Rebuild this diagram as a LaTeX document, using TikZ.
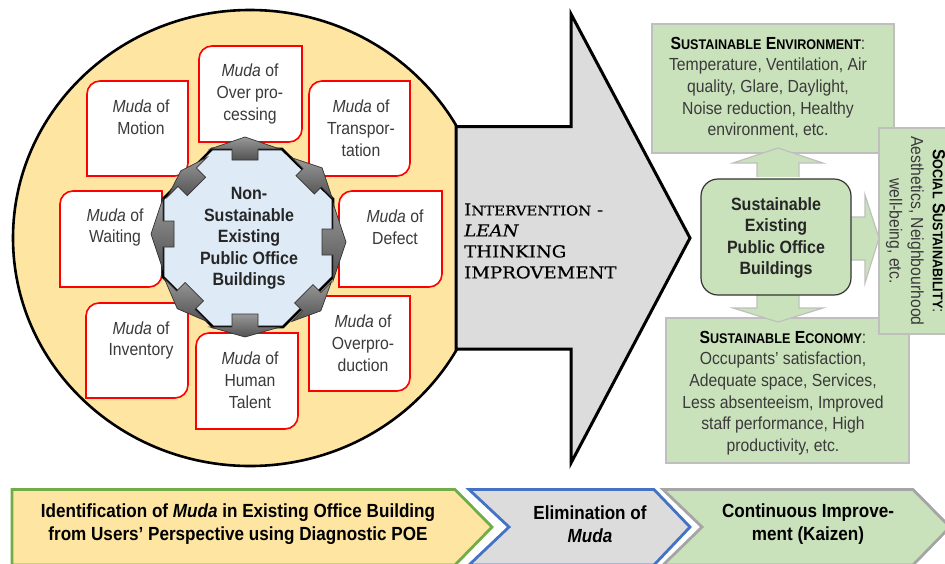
\documentclass[tikz,border=0pt]{standalone}
\usepackage{fontspec}
\setmainfont[FakeStretch=0.9]{Liberation Sans}
\newfontfamily\copperfont[FakeStretch=1.1,FakeBold=0.5]{DejaVu Serif}
\definecolor{circfill}{HTML}{FEE5A2}
\definecolor{octfill}{HTML}{DEEAF6}
\definecolor{greenfill}{HTML}{CAE2BB}
\definecolor{greyfill}{HTML}{DCDCDC}
\definecolor{softgrey}{HTML}{BFBFBF}
\definecolor{txtgrey}{HTML}{3A3A3A}
\definecolor{chevgreen}{HTML}{70AD47}
\definecolor{chevblue}{HTML}{4472C4}
\definecolor{chevgrey}{HTML}{A5A5A5}
\newcommand{\fs}[2]{\fontsize{#1}{#2}\selectfont}
\newcommand{\capshead}[2]{\textbf{#1{\fs{14}{21.7}#2}}}
\tikzset{
  x=1pt,y=-1pt,
  mudabox/.style={draw=red,line width=1.6pt,fill=white},
  mudatext/.style={align=center,inner sep=0pt,text=txtgrey,font=\fs{17.5}{21.8}},
  blockarrow/.style={draw=black!80,line width=0.7pt,top color=black!40,bottom color=black!68},
  greenbox/.style={draw=softgrey,line width=1.2pt,fill=greenfill},
  greenarrow/.style={draw=softgrey,line width=1.2pt,fill=greenfill},
  sustext/.style={align=center,inner sep=0pt,text=txtgrey,font=\fs{17.5}{21.6}},
  boldtext/.style={align=center,inner sep=0pt,text=black!85,font=\fs{17.8}{21.6}\bfseries},
  chevtext/.style={align=center,inner sep=0pt,text=black,font=\fs{19}{23}\bfseries},
}
% cx cy angle r0 r1 r2 headhalf
\newcommand{\blockarr}[7]{%
  \begin{scope}[shift={(#1,#2)},rotate=#3]
    \path[blockarrow] (#4,-13) -- (#5,-13) -- (#5,-#7) -- (#6,0) -- (#5,#7) -- (#5,13) -- (#4,13) -- cycle;
  \end{scope}}
\newcommand{\mudashape}[4]{%
  \draw[mudabox] (#1,#4) [rounded corners=13pt] -- (#1,#2) [sharp corners] -- (#3,#2) [rounded corners=13pt] -- (#3,#4) [sharp corners] -- cycle;}
\begin{document}
\begin{tikzpicture}
\useasboundingbox (0,0) rectangle (945,563);
% circle
\draw[fill=circfill,draw=black,line width=2.6pt] (250,238) ellipse [x radius=237,y radius=228];
% muda boxes
\mudashape{87}{81}{188}{176}
\mudashape{199}{46}{302}{142}
\mudashape{309}{81}{410}{176}
\mudashape{339}{191}{442}{287}
\mudashape{60}{191}{162}{287}
\mudashape{86}{303}{188}{398}
\mudashape{196}{333}{298}{429}
\mudashape{309}{296}{410}{391}
\node[mudatext] (motion) at (141,117.5) {\textit{Muda} of\\Motion};
\node[mudatext] (overproc) at (250,94) {\textit{Muda} of\\Over pro-\\cessing};
\node[mudatext] (transport) at (361,128.5) {\textit{Muda} of\\Transpor-\\tation};
\node[mudatext] (defect) at (395,227.5) {\textit{Muda} of\\Defect};
\node[mudatext] (waiting) at (115,227.5) {\textit{Muda} of\\Waiting};
\node[mudatext] (inventory) at (141,340.5) {\textit{Muda} of\\Inventory};
\node[mudatext] (human) at (250,380.5) {\textit{Muda} of\\Human\\Talent};
\node[mudatext] (overprod) at (363,343.5) {\textit{Muda} of\\Overpro-\\duction};
% central octagon
\draw[fill=octfill,draw=black,line width=2.6pt] (212,149) -- (282,149) -- (333,199) -- (333,277) -- (283,327) -- (213,327) -- (163,277) -- (163,199) -- cycle;
\blockarr{245}{238}{90}{78}{89}{101}{35}
\blockarr{248}{242}{0}{74}{85}{98}{39}
\blockarr{248}{234}{180}{74}{85}{97}{36}
\blockarr{245}{238}{270}{76}{89}{99}{35}
\blockarr{250}{240}{45}{78}{88}{102}{28}
\blockarr{248}{238}{135}{73}{86}{95}{28}
\blockarr{248}{238}{225}{76}{88}{100}{30}
\blockarr{248}{238}{315}{79}{90}{103}{28}
\node[boldtext] (nonsus) at (249,238.5) {Non-\\Sustainable\\Existing\\Public Office\\Buildings};
% big arrow
\draw[fill=greyfill,draw=black,line width=3pt,line join=miter] (456,126.5) -- (571,126.5) -- (571,14) -- (690,238) -- (571,463) -- (571,349) -- (456,349) -- cycle;
\node[anchor=west,inner sep=0pt,text=black,align=left,font=\copperfont\fs{16.5}{21}] (lean) at (464,241) {I{\fs{13.5}{21}NTERVENTION} -\\\textit{LEAN}\\THINKING\\IMPROVEMENT};
% green boxes
\draw[greenbox] (652,24) rectangle (894,153);
\draw[greenbox] (666,318) rectangle (909,463);
\draw[greenbox] (879,128) rectangle (950,334);
\draw[greenarrow] (757,177) -- (757,163) -- (733,163) -- (778,148) -- (823,163) -- (799,163) -- (799,177);
\draw[greenarrow] (757,295) -- (757,308) -- (733,308) -- (778,322) -- (823,308) -- (799,308) -- (799,295);
\draw[greenarrow] (851,217) -- (865,217) -- (865,195) -- (879,238) -- (865,283) -- (865,260) -- (851,260);
\draw[fill=greenfill,draw=black!80,line width=1.2pt,rounded corners=17pt] (701,179) rectangle (851,295);
\node[boldtext] (sus) at (776,238) {Sustainable\\Existing\\Public Office\\Buildings};
\node[sustext] (env) at (768,87.5) {\textcolor{black}{\capshead{S}{USTAINABLE} \capshead{E}{NVIRONMENT}}:\\Temperature, Ventilation, Air\\quality, Glare, Daylight,\\Noise reduction, Healthy\\environment, etc.};
\node[sustext] (econ) at (783,393) {\textcolor{black}{\capshead{S}{USTAINABLE} \capshead{E}{CONOMY}}:\\Occupants' satisfaction,\\Adequate space, Services,\\Less absenteeism, Improved\\staff performance, High\\productivity, etc.};
\node[sustext,rotate=-90] (social) at (915.5,231) {\textcolor{black}{\capshead{S}{OCIAL} \capshead{S}{USTAINABILITY}}:\\Aesthetics, Neighbourhood\\well-being, etc.};
% chevrons
\draw[fill=circfill,draw=chevgreen,line width=2.8pt] (12,489.5) -- (455,489.5) -- (492,527) -- (455,565) -- (12,565) -- cycle;
\draw[fill=greyfill,draw=chevblue,line width=2.8pt] (469,489.5) -- (654,489.5) -- (690,527) -- (654,565) -- (469,565) -- (509,527) -- cycle;
\draw[fill=greenfill,draw=chevgrey,line width=2.8pt] (663,489.5) -- (913,489.5) -- (950,527) -- (913,565) -- (663,565) -- (702,527) -- cycle;
\node[chevtext] (ident) at (238,524.5) {Identification of \textit{Muda} in Existing Office Building\\from Users' Perspective using Diagnostic POE};
\node[chevtext] (elim) at (590,524.5) {Elimination of\\\textit{Muda}};
\node[chevtext] (kaizen) at (808,524.5) {Continuous Improve-\\ment (Kaizen)};
\end{tikzpicture}
\end{document}
